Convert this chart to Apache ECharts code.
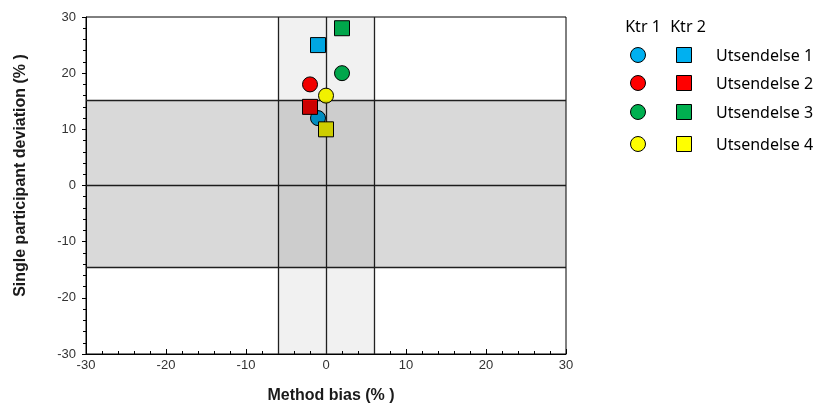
<!DOCTYPE html>
<html>
<head>
<meta charset="utf-8">
<script src="https://cdn.jsdelivr.net/npm/echarts@6/dist/echarts.min.js"></script>
<style>
html,body{margin:0;padding:0;background:#fff;}
#chart{width:817px;height:403px;}
</style>
</head>
<body>
<div id="chart"></div>
<script>
// ---- data ----
const categories = ['Utsendelse 1', 'Utsendelse 2', 'Utsendelse 3', 'Utsendelse 4'];
const groupNames = ['Ktr 1', 'Ktr 2'];
const ktr1Bias = [-1, -2, 2, 0];
const ktr1Dev = [12, 18, 20, 16];
const ktr2Bias = [-1, -2, 2, 0];
const ktr2Dev = [25, 14, 28, 10];
const biasLimits = [-6, 6];
const devLimits = [-14.6, 15.1];
const axisTicks = [-30, -20, -10, 0, 10, 20, 30];

// ---- style ----
const pointColors = ['#00B0F0', '#FF0000', '#00B050', '#FFFF00'];
const labelFont = '"Liberation Sans", Arial, sans-serif';
const legendFont = '"Noto Sans", sans-serif';

const chart = echarts.init(document.getElementById('chart'));

function points(xs, ys) {
  return xs.map((x, i) => ({
    value: [x, ys[i]],
    itemStyle: { color: pointColors[i], borderColor: '#000', borderWidth: 1, opacity: 1 }
  }));
}

const axisCommon = {
  type: 'value',
  min: axisTicks[0],
  max: axisTicks[axisTicks.length - 1],
  interval: 10,
  splitLine: { show: false },
  axisLine: { show: true, onZero: false, lineStyle: { color: '#000', width: 1 } },
  nameLocation: 'middle'
};

// legend as graphic
const legendGraphics = [];
const colX = [638, 684];
const headerX = [643, 688];
const headerY = 27;
const rowY = [55, 83, 112, 144];
groupNames.forEach((g, j) => {
  legendGraphics.push({
    type: 'text', x: headerX[j], y: headerY,
    style: { text: g, fontSize: 16, fontFamily: legendFont, fill: '#000', align: 'center', verticalAlign: 'middle' }
  });
});
categories.forEach((c, i) => {
  legendGraphics.push({
    type: 'circle', shape: { cx: colX[0], cy: rowY[i], r: 7.5 },
    style: { fill: pointColors[i], stroke: '#000', lineWidth: 1 }
  });
  legendGraphics.push({
    type: 'rect', shape: { x: colX[1] - 7.5, y: rowY[i] - 7.5, width: 15, height: 15 },
    style: { fill: pointColors[i], stroke: '#000', lineWidth: 1 }
  });
  legendGraphics.push({
    type: 'text', x: 716, y: rowY[i] + 1,
    style: { text: c, fontSize: 16, fontFamily: legendFont, fill: '#000', verticalAlign: 'middle' }
  });
});

const lineStyleDark = { color: '#222', width: 1.3, type: 'solid' };

chart.setOption({
  animation: false,
  backgroundColor: '#fff',
  grid: { left: 86, right: 251, top: 17, bottom: 49, outerBoundsMode: 'none', containLabel: false, show: true, borderColor: '#000', borderWidth: 1, backgroundColor: 'transparent' },
  xAxis: Object.assign({}, axisCommon, {
    name: 'Method bias (% )', nameGap: 34,
    nameTextStyle: { color: '#1a1a1a', fontSize: 16, fontWeight: 'bold', fontFamily: labelFont, padding: [0, 0, 0, 10] },
    axisTick: { show: true, inside: true, length: 5, lineStyle: { color: '#000' } },
    minorTick: { show: true, splitNumber: 5, length: 3, lineStyle: { color: '#000' } },
    axisLabel: { color: '#333', fontSize: 13, fontFamily: labelFont, margin: 5 }
  }),
  yAxis: Object.assign({}, axisCommon, {
    name: 'Single participant deviation (% )', nameGap: 57,
    nameTextStyle: { color: '#1a1a1a', fontSize: 16, fontWeight: 'bold', fontFamily: labelFont, padding: [0, 0, 0, 20] },
    axisTick: { show: true, inside: false, length: 4, lineStyle: { color: '#000' } },
    minorTick: { show: true, splitNumber: 5, length: 3, lineStyle: { color: '#000' } },
    axisLabel: { color: '#333', fontSize: 13, fontFamily: labelFont, margin: 10 }
  }),
  graphic: legendGraphics,
  series: [
    {
      type: 'scatter', z: 1, silent: true, symbolSize: 0, data: [],
      markLine: {
        z: 1, silent: true, symbol: 'none', label: { show: false },
        lineStyle: lineStyleDark,
        emphasis: { disabled: true },
        data: [
          { xAxis: 0 }, { yAxis: 0 },
          { xAxis: biasLimits[0] }, { xAxis: biasLimits[1] },
          { yAxis: devLimits[0] }, { yAxis: devLimits[1] }
        ]
      }
    },
    {
      name: groupNames[0], type: 'scatter', z: 3, symbol: 'circle', symbolSize: 15,
      data: points(ktr1Bias, ktr1Dev)
    },
    {
      name: groupNames[1], type: 'scatter', z: 3, symbol: 'rect', symbolSize: 15,
      data: points(ktr2Bias, ktr2Dev)
    },
    {
      type: 'scatter', z: 6, silent: true, symbolSize: 0, data: [],
      markArea: {
        z: 6, silent: true,
        data: [
          [{ xAxis: biasLimits[0], yAxis: 30, itemStyle: { color: 'rgba(0,0,0,0.055)', borderWidth: 0 } }, { xAxis: biasLimits[1], yAxis: -30 }],
          [{ xAxis: -30, yAxis: devLimits[1], itemStyle: { color: 'rgba(0,0,0,0.15)', borderWidth: 0 } }, { xAxis: 30, yAxis: devLimits[0] }]
        ]
      }
    }
  ]
});
</script>
</body>
</html>
